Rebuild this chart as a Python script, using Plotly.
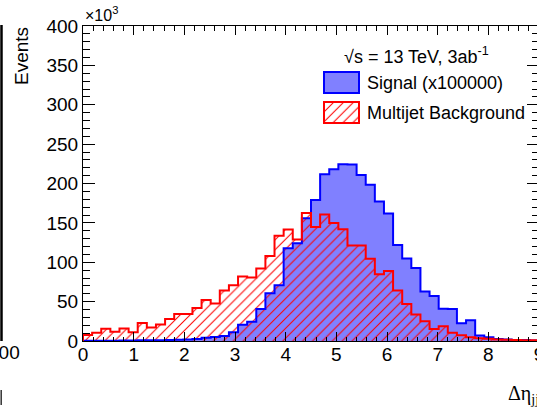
import numpy as np
import plotly.graph_objects as go

# ---------------- data (values in units of 10^3 events) ----------------
N_BINS = 50
X_LO, X_HI = 0.0, 9.0

signal_k = [0.2, 0.3, 0.3, 0.4, 0.5, 0.6, 0.8, 0.9, 1.0, 1.3,
            1.5, 2.0, 2.6, 4.2, 5.0, 6.3, 11.0, 20.7, 24.5, 40.5,
            60.5, 70.7, 117.7, 124.0, 155.8, 179.0, 211.6, 218.0, 224.3, 224.0,
            210.8, 198.3, 177.0, 162.0, 122.0, 104.8, 92.7, 63.0, 57.0, 41.0,
            40.6, 22.4, 26.2, 7.0, 4.8, 2.5, 2.0, 1.3, 1.3, 0.5]

background_k = [7.5, 10.6, 15.6, 11.9, 16.0, 11.0, 22.9, 17.0, 21.0, 28.0,
                34.3, 34.3, 42.0, 52.0, 47.6, 64.0, 70.7, 82.0, 80.6, 92.0,
                108.0, 133.5, 141.5, 129.0, 162.5, 144.8, 160.5, 150.0, 141.8, 121.3,
                121.3, 104.5, 84.7, 89.0, 64.0, 47.0, 33.5, 25.0, 15.2, 18.6,
                10.6, 7.4, 4.7, 3.4, 3.0, 2.0, 1.5, 1.3, 1.0, 0.8]

y_ticks = [0, 50, 100, 150, 200, 250, 300, 350, 400]
x_ticks = [0, 1, 2, 3, 4, 5, 6, 7, 8, 9]

legend_header = "√s = 13 TeV, 3ab<sup>-1</sup>"
signal_label = "Signal (x100000)"
background_label = "Multijet Background"

# ---------------- derived ----------------
edges = np.linspace(X_LO, X_HI, N_BINS + 1)
centers = 0.5 * (edges[:-1] + edges[1:])
bw = edges[1] - edges[0]


def step_xy(vals):
    xs = [edges[0]] + list(edges[:-1]) + [edges[-1], edges[-1]]
    ys = [0] + list(vals) + [vals[-1], 0]
    return xs, ys


# ---------------- layout geometry (pixels) ----------------
# figure is 2px wider than the window so the right frame sits just off-screen
W, H = 539, 410
L, R, T, B = 83, 0, 26, 69
PW = W - L - R
PH = H - T - B
BASE = H - B


def fx(px):
    return (px - L) / PW


def fy(py):
    return (BASE - py) / PH


FONT = "Liberation Sans, Arial, Helvetica, sans-serif"
BLUE_FILL = "rgb(128,128,255)"
BLUE = "rgb(0,0,255)"
RED = "rgb(255,0,0)"

hatch = dict(shape="/", fgcolor=RED, bgcolor="rgba(0,0,0,0)",
             fillmode="replace", size=7, solidity=0.15)

fig = go.Figure()

# signal fill
fig.add_trace(go.Bar(x=centers, y=signal_k, width=bw,
                     marker=dict(color=BLUE_FILL, line=dict(width=0)),
                     showlegend=False, hoverinfo="skip"))
# background hatch
fig.add_trace(go.Bar(x=centers, y=background_k, width=bw,
                     marker=dict(color=RED, line=dict(width=0), pattern=hatch),
                     showlegend=False, hoverinfo="skip"))

sx, sy = step_xy(signal_k)
fig.add_trace(go.Scatter(x=sx, y=sy, mode="lines", line_shape="hv",
                         line=dict(color=BLUE, width=2), cliponaxis=False,
                         showlegend=False, hoverinfo="skip"))
bx, by = step_xy(background_k)
fig.add_trace(go.Scatter(x=bx, y=by, mode="lines", line_shape="hv",
                         line=dict(color=RED, width=2), cliponaxis=False,
                         showlegend=False, hoverinfo="skip"))

# legend hatched swatch on its own hidden axes
fig.add_trace(go.Bar(x=[0.5], y=[1], width=1, xaxis="x2", yaxis="y2",
                     marker=dict(color=RED, line=dict(width=0), pattern=hatch),
                     showlegend=False, hoverinfo="skip"))

axis_common = dict(showgrid=False, zeroline=False, showline=True,
                   linecolor="black", linewidth=1, mirror="ticks",
                   ticks="inside", tickcolor="black", tickwidth=1,
                   automargin=False, ticklabeloverflow="allow",
                   tickfont=dict(family=FONT, size=19, color="black"))

fig.update_layout(
    width=W, height=H,
    margin=dict(l=L, r=R, t=T, b=B, pad=0, autoexpand=False),
    paper_bgcolor="white", plot_bgcolor="white",
    barmode="overlay", bargap=0,
    showlegend=False,
    xaxis=dict(range=[X_LO, X_HI], tickvals=x_ticks, ticklen=9,
               ticklabelstandoff=-4,
               minor=dict(dtick=0.2, tick0=0, ticks="inside", ticklen=4.5,
                          tickcolor="black"),
               **axis_common),
    yaxis=dict(range=[0, 400], tickvals=y_ticks, ticklen=12,
               minor=dict(dtick=10, tick0=0, ticks="inside", ticklen=7,
                          tickcolor="black"),
               **axis_common),
    xaxis2=dict(domain=[fx(324), fx(359)], range=[0, 1], visible=False,
                anchor="y2", fixedrange=True),
    yaxis2=dict(domain=[fy(123), fy(102)], range=[0, 1], visible=False,
                anchor="x2", fixedrange=True),
)

shapes = [
    # legend boxes
    dict(type="rect", xref="paper", yref="paper",
         x0=fx(324), x1=fx(359), y0=fy(93), y1=fy(72),
         fillcolor=BLUE_FILL, line=dict(color=BLUE, width=2), layer="above"),
    dict(type="rect", xref="paper", yref="paper",
         x0=fx(324), x1=fx(359), y0=fy(123), y1=fy(102),
         fillcolor="rgba(0,0,0,0)", line=dict(color=RED, width=2), layer="above"),
    # fragments of the neighbouring panel on the left edge
    dict(type="line", xref="paper", yref="paper",
         x0=fx(1.5), x1=fx(1.5), y0=fy(341), y1=fy(25),
         line=dict(color="black", width=2.5)),
    dict(type="line", xref="paper", yref="paper",
         x0=fx(1.2), x1=fx(1.2), y0=fy(405), y1=fy(390),
         line=dict(color="#333333", width=1.5)),
]
fig.update_layout(shapes=shapes)

ann = [
    dict(text="×10<sup>3</sup>", x=fx(83), y=fy(26), xanchor="left",
         yanchor="bottom", font=dict(family=FONT, size=16)),
    dict(text="Events", x=fx(21), y=fy(25), xanchor="center", yanchor="top",
         textangle=-90, font=dict(family=FONT, size=19)),
    dict(text="Δη<sub>jj</sub>", x=fx(506), y=fy(394), xanchor="left",
         yanchor="middle", font=dict(family="Liberation Serif, DejaVu Serif, serif", size=20)),
    dict(text=legend_header, x=fx(342), y=fy(55), xanchor="left",
         yanchor="middle", font=dict(family=FONT, size=18)),
    dict(text=signal_label, x=fx(365), y=fy(83), xanchor="left",
         yanchor="middle", font=dict(family=FONT, size=18)),
    dict(text=background_label, x=fx(365), y=fy(113), xanchor="left",
         yanchor="middle", font=dict(family=FONT, size=18)),
    dict(text="000", x=fx(22), y=fy(352), xanchor="right",
         yanchor="middle", font=dict(family=FONT, size=19)),
]
for a in ann:
    a.update(xref="paper", yref="paper", showarrow=False)
    a["font"]["color"] = "black"
fig.update_layout(annotations=ann)

fig.write_html("out.html",
               config={"displayModeBar": False},
               post_script="document.body.style.margin='0px';"
                           "document.body.style.overflow='hidden';")
